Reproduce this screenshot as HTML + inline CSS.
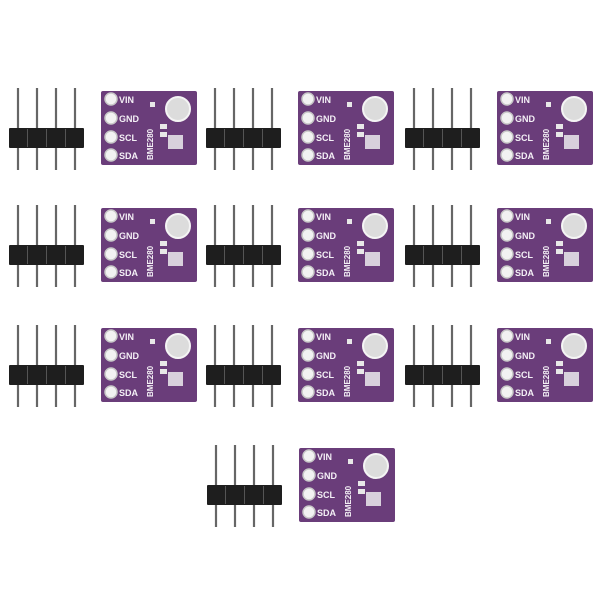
<!DOCTYPE html>
<html><head><style>body{margin:0;background:#fff}svg{display:block}</style></head><body>
<svg width="600" height="600" viewBox="0 0 600 600" xmlns="http://www.w3.org/2000/svg" font-family="Liberation Sans, sans-serif">
<defs>
<g id="hdr">
<g stroke="#666" stroke-width="2.2"><line x1="18" y1="8" x2="18" y2="90"/><line x1="37" y1="8" x2="37" y2="90"/><line x1="56" y1="8" x2="56" y2="90"/><line x1="75" y1="8" x2="75" y2="90"/></g>
<rect x="9" y="48" width="75" height="20" fill="#1e1e1e" rx="1"/>
<g stroke="#555" stroke-width="1"><line x1="27.5" y1="49" x2="27.5" y2="67"/><line x1="46.5" y1="49" x2="46.5" y2="67"/><line x1="65.5" y1="49" x2="65.5" y2="67"/></g>
</g>
<g id="brd">
<rect x="101" y="11" width="96" height="74" fill="#6a3d7a" rx="2"/>
<g fill="#f2f2f2" stroke="#c8c8c8" stroke-width="1.5"><circle cx="111" cy="19" r="6"/><circle cx="111" cy="38" r="6"/><circle cx="111" cy="57" r="6"/><circle cx="111" cy="75" r="6"/></g>
<circle cx="178" cy="29" r="12" fill="#dcdcdc" stroke="#f4f4f4" stroke-width="2"/>
<rect x="168" y="55" width="15" height="14" fill="#d8d0dc"/>
<rect x="160" y="44" width="7" height="5" fill="#e8e8e8"/>
<rect x="160" y="52" width="7" height="5" fill="#e8e8e8"/>
<rect x="150" y="22" width="5" height="5" fill="#e8e8e8"/>
</g>
</defs>
<g id="u1">
<use href="#hdr" transform="translate(0,80)"/><use href="#brd" transform="translate(0,80)"/>
</g>
<g font-size="9" font-weight="bold" fill="#f4f0f6">
<!-- units -->
<g transform="translate(0,80)"><text x="119" y="23">VIN</text><text x="119" y="42">GND</text><text x="119" y="61">SCL</text><text x="119" y="79">SDA</text><text transform="translate(153,80) rotate(-90)" font-size="8">BME280</text></g>
</g>
<g transform="translate(197,80)"><use href="#hdr"/><use href="#brd"/></g>
<g transform="translate(396,80)"><use href="#hdr"/><use href="#brd"/></g>
<g transform="translate(0,197)"><use href="#hdr"/><use href="#brd"/></g>
<g transform="translate(197,197)"><use href="#hdr"/><use href="#brd"/></g>
<g transform="translate(396,197)"><use href="#hdr"/><use href="#brd"/></g>
<g transform="translate(0,317)"><use href="#hdr"/><use href="#brd"/></g>
<g transform="translate(197,317)"><use href="#hdr"/><use href="#brd"/></g>
<g transform="translate(396,317)"><use href="#hdr"/><use href="#brd"/></g>
<g transform="translate(198,437)"><use href="#hdr"/><use href="#brd"/></g>
<g font-size="9" font-weight="bold" fill="#f4f0f6">
<g transform="translate(197,80)"><text x="119" y="23">VIN</text><text x="119" y="42">GND</text><text x="119" y="61">SCL</text><text x="119" y="79">SDA</text><text transform="translate(153,80) rotate(-90)" font-size="8">BME280</text></g>
<g transform="translate(396,80)"><text x="119" y="23">VIN</text><text x="119" y="42">GND</text><text x="119" y="61">SCL</text><text x="119" y="79">SDA</text><text transform="translate(153,80) rotate(-90)" font-size="8">BME280</text></g>
<g transform="translate(0,197)"><text x="119" y="23">VIN</text><text x="119" y="42">GND</text><text x="119" y="61">SCL</text><text x="119" y="79">SDA</text><text transform="translate(153,80) rotate(-90)" font-size="8">BME280</text></g>
<g transform="translate(197,197)"><text x="119" y="23">VIN</text><text x="119" y="42">GND</text><text x="119" y="61">SCL</text><text x="119" y="79">SDA</text><text transform="translate(153,80) rotate(-90)" font-size="8">BME280</text></g>
<g transform="translate(396,197)"><text x="119" y="23">VIN</text><text x="119" y="42">GND</text><text x="119" y="61">SCL</text><text x="119" y="79">SDA</text><text transform="translate(153,80) rotate(-90)" font-size="8">BME280</text></g>
<g transform="translate(0,317)"><text x="119" y="23">VIN</text><text x="119" y="42">GND</text><text x="119" y="61">SCL</text><text x="119" y="79">SDA</text><text transform="translate(153,80) rotate(-90)" font-size="8">BME280</text></g>
<g transform="translate(197,317)"><text x="119" y="23">VIN</text><text x="119" y="42">GND</text><text x="119" y="61">SCL</text><text x="119" y="79">SDA</text><text transform="translate(153,80) rotate(-90)" font-size="8">BME280</text></g>
<g transform="translate(396,317)"><text x="119" y="23">VIN</text><text x="119" y="42">GND</text><text x="119" y="61">SCL</text><text x="119" y="79">SDA</text><text transform="translate(153,80) rotate(-90)" font-size="8">BME280</text></g>
<g transform="translate(198,437)"><text x="119" y="23">VIN</text><text x="119" y="42">GND</text><text x="119" y="61">SCL</text><text x="119" y="79">SDA</text><text transform="translate(153,80) rotate(-90)" font-size="8">BME280</text></g>
</g>
</svg>
</body></html>
